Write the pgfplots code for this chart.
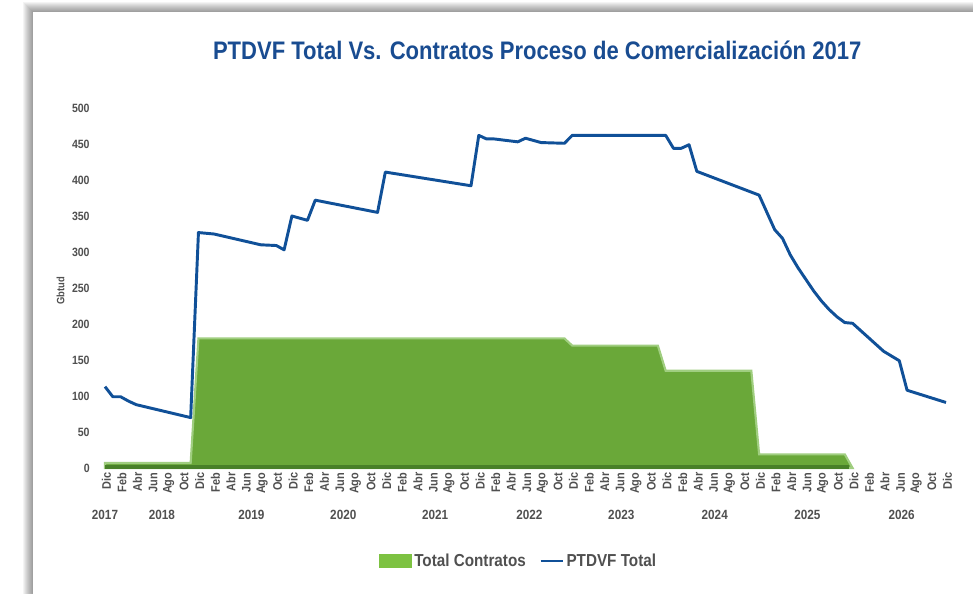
\documentclass[border=0pt]{standalone}
\usepackage{fontspec}
\setmainfont{Liberation Sans}[FakeStretch=0.88]
\newfontfamily\titlefont{Liberation Sans}[FakeStretch=0.87]
\usepackage{pgfplots}
\pgfplotsset{compat=1.18}
\definecolor{titleblue}{RGB}{25,76,145}
\definecolor{lineblue}{RGB}{16,80,152}
\definecolor{areagreen}{RGB}{106,168,57}
\definecolor{lightgreen}{RGB}{160,206,128}
\definecolor{darkgreen}{RGB}{72,128,40}
\definecolor{legendgreen}{RGB}{125,194,66}
\definecolor{tickgray}{RGB}{80,80,80}
\begin{document}
\begin{tikzpicture}
\path[use as bounding box] (0,0) rectangle (729.75pt,444.75pt);
\fill[white] (0,0) rectangle (729.75pt,444.75pt);
\foreach \i in {1,...,10}{
  \fill[black,opacity=0.045] ({24.75pt-\i*0.75pt},-10pt) rectangle (745pt,{435.75pt+\i*0.75pt});
}
\fill[white] (24.75pt,-10pt) rectangle (745pt,435.75pt);
\begin{axis}[
  at={(78.75pt,93.75pt)}, anchor=south west,
  scale only axis, width=630.75pt, height=270pt,
  xmin=0, xmax=108, ymin=0, ymax=500,
  enlargelimits=false, clip=false,
  axis line style={draw=none}, tick style={draw=none},
  major tick length=0pt,
  ytick={0,50,...,500},
  xtick={0,2,...,108},
  xticklabels={Dic,Feb,Abr,Jun,Ago,Oct,Dic,Feb,Abr,Jun,Ago,Oct,Dic,Feb,Abr,Jun,Ago,Oct,Dic,Feb,Abr,Jun,Ago,Oct,Dic,Feb,Abr,Jun,Ago,Oct,Dic,Feb,Abr,Jun,Ago,Oct,Dic,Feb,Abr,Jun,Ago,Oct,Dic,Feb,Abr,Jun,Ago,Oct,Dic,Feb,Abr,Jun,Ago,Oct,Dic},
  /pgf/number format/assume math mode=true,
  yticklabel style={font=\fontsize{9pt}{10pt}\selectfont\bfseries, text=tickgray, anchor=east, xshift=-8pt},
  xticklabel style={font=\fontsize{9.3pt}{10pt}\selectfont\bfseries, text=tickgray, rotate=90, anchor=east, yshift=-1pt},
  legend style={at={(0.492,-0.258)}, anchor=center, draw=none, fill=none,
    legend columns=-1, font=\fontsize{13pt}{14pt}\selectfont\bfseries, text=tickgray,
    /tikz/every even column/.append style={column sep=8pt}},
]
\addplot[fill=areagreen, draw=lightgreen, line width=1.6pt,
  legend image code/.code={\fill[legendgreen] (0pt,-4.5pt) rectangle (23pt,4.5pt);}]
  coordinates {(0,7) (11,7) (12,180) (59,180) (60,170) (71,170) (72,135) (83,135) (84,19) (95,19) (96,0)} \closedcycle;
\addlegendentry{Total Contratos}
\addplot[forget plot, darkgreen, line width=2.5pt] coordinates {(0,1.5) (95.5,1.5)};
\addplot[lineblue, line width=2.2pt, line join=round,
  legend image code/.code={\draw[lineblue, line width=2pt] (0pt,0pt) -- (16.5pt,0pt);}]
  coordinates {(0,113) (1,99) (2,99) (3,93) (4,88) (11,70) (12,327) (14,325) (20,310) (22,309) (23,303) (24,350) (26,344) (27,372) (35,355) (36,411) (47,392) (48,462) (49,457) (50,457) (53,453) (54,458) (56,452) (59,451) (60,462) (72,462) (73,444) (74,444) (75,449) (76,412) (84,379) (86,331) (87,319) (88,296) (89,278) (90,262) (91,246) (92,232) (93,220) (94,210) (95,202) (96,201) (100,162) (102,149) (103,108) (108,91)};
\addlegendentry{PTDVF Total}
\node[font=\fontsize{10pt}{11pt}\selectfont\bfseries, text=tickgray] at (axis cs:0,-65) {2017};
\node[font=\fontsize{10pt}{11pt}\selectfont\bfseries, text=tickgray] at (axis cs:7.3,-65) {2018};
\node[font=\fontsize{10pt}{11pt}\selectfont\bfseries, text=tickgray] at (axis cs:18.8,-65) {2019};
\node[font=\fontsize{10pt}{11pt}\selectfont\bfseries, text=tickgray] at (axis cs:30.6,-65) {2020};
\node[font=\fontsize{10pt}{11pt}\selectfont\bfseries, text=tickgray] at (axis cs:42.4,-65) {2021};
\node[font=\fontsize{10pt}{11pt}\selectfont\bfseries, text=tickgray] at (axis cs:54.5,-65) {2022};
\node[font=\fontsize{10pt}{11pt}\selectfont\bfseries, text=tickgray] at (axis cs:66.3,-65) {2023};
\node[font=\fontsize{10pt}{11pt}\selectfont\bfseries, text=tickgray] at (axis cs:78.3,-65) {2024};
\node[font=\fontsize{10pt}{11pt}\selectfont\bfseries, text=tickgray] at (axis cs:90.2,-65) {2025};
\node[font=\fontsize{10pt}{11pt}\selectfont\bfseries, text=tickgray] at (axis cs:102.3,-65) {2026};
\node[rotate=90, font=\fontsize{8pt}{9pt}\selectfont\bfseries, text=tickgray] at (axis cs:-5.7,246) {Gbtud};
\node[font=\titlefont\fontsize{19pt}{20pt}\selectfont\bfseries, text=titleblue] at (axis cs:55.5,580.6) {PTDVF Total Vs. Contratos Proceso de Comercialización 2017};
\end{axis}
\end{tikzpicture}
\end{document}
